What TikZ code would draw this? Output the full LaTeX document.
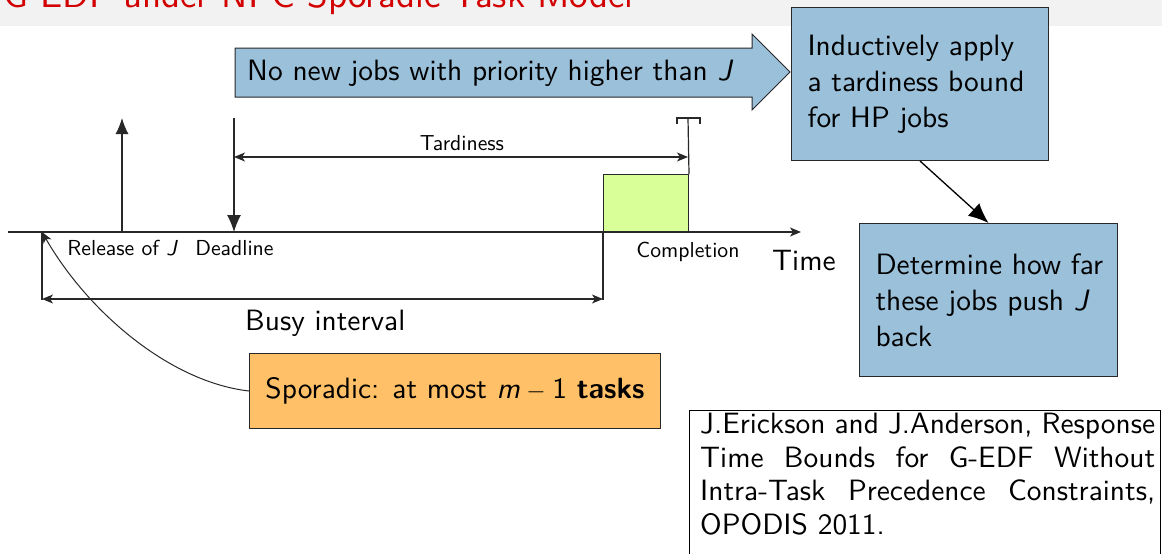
\documentclass[tikz,border=0pt]{standalone}
\usepackage{fontspec}
\setsansfont{lmsans10-regular.otf}[BoldFont=lmsans10-bold.otf, ItalicFont=lmsans10-oblique.otf, BoldItalicFont=lmsans10-boldoblique.otf]
\usetikzlibrary{arrows.meta}
\definecolor{titlered}{RGB}{210,0,0}
\definecolor{barback}{RGB}{242,242,242}
\definecolor{boxblue}{RGB}{154,192,218}
\definecolor{boxorange}{RGB}{255,192,104}
\definecolor{jobgreen}{RGB}{217,255,153}
\definecolor{linecol}{RGB}{40,40,40}
\begin{document}
\begin{tikzpicture}[x=1pt,y=-1pt,
  every node/.style={inner sep=0pt},
  bigfont/.style={font=\sffamily\fontsize{29.4}{36}\selectfont},
  smallfont/.style={font=\sffamily\fontsize{21.7}{25}\selectfont},
  axis/.style={line width=1.2pt, draw=linecol},
  smalltip/.style={-{Stealth[length=11pt,width=9pt,inset=3pt]}},
  smalltips/.style={{Stealth[length=11pt,width=9pt,inset=3pt]}-{Stealth[length=11pt,width=9pt,inset=3pt]}},
  bigtip/.style={-{Latex[length=16pt,width=13pt]}},
  colbox/.style={draw=linecol, line width=1pt},
]
\useasboundingbox (0,0) rectangle (1162,554);

% title bar
\fill[barback] (0,0) rectangle (1162,26);
\node[font=\sffamily\fontsize{37}{40}\selectfont, text=titlered, anchor=base east] (title) at (634,7) {G-EDF under NPC Sporadic Task Model};

% key points on the time axis
\coordinate (tl0) at (8,232);
\coordinate (tl1) at (801,232);
\coordinate (rel) at (122,232);
\coordinate (reltop) at (122,118);
\coordinate (dltop) at (234,118);
\coordinate (dl) at (234,232);
\coordinate (busyL) at (42,232);
\coordinate (busyLlow) at (42,300);
\coordinate (busyR) at (603,232);
\coordinate (busyRlow) at (603,300);
\coordinate (arrL) at (42,299);
\coordinate (arrR) at (603,299);
\coordinate (tardL) at (234,157);
\coordinate (tardR) at (688,157);
\coordinate (comptop) at (688,118);

% executing job
\node[colbox, fill=jobgreen, minimum width=85pt, minimum height=57pt, anchor=south west] (job) at (603,232) {};

% time axis
\draw[axis, smalltip] (tl0) -- (tl1);

% release and deadline
\draw[axis, bigtip] (rel) -- (reltop);
\draw[axis, -{Latex[length=17pt,width=14pt]}] (dltop) -- (dl);

% completion marker
\draw[axis] (job.north east) -- (comptop);
\draw[axis] (677,124) -- (677,118) -- (700,118) -- (700,124);

% tardiness
\draw[axis, smalltips] (tardL) -- (tardR);
\node[smallfont, anchor=base] (tardlab) at (462,150) {Tardiness};

% busy interval
\draw[axis] (busyL) -- (busyLlow);
\draw[axis] (busyR) -- (busyRlow);
\draw[axis, smalltips] (arrL) -- (arrR);
\node[bigfont, anchor=base west] (busylab) at (245,330) {Busy interval};

% axis labels
\node[smallfont, anchor=base] (rellab) at (122,255) {Release of {\itshape J}};
\node[smallfont, anchor=base] (dllab) at (234.5,255) {Deadline};
\node[smallfont, anchor=base] (complab) at (688,257) {Completion};
\node[bigfont, anchor=base west] (timelab) at (772,270) {Time};

% block arrow
\path[colbox, fill=boxblue] (235,48) -- (752,48) -- (752,34) -- (790,72) -- (752,110) -- (752,97) -- (235,97) -- cycle;
\node[bigfont, anchor=base west] (nonew) at (247,80) {No new jobs with priority higher than {\itshape J}};

% blue boxes
\node[colbox, fill=boxblue, bigfont, minimum width=257pt, minimum height=153pt, text width=225pt, align=left, inner xsep=16pt, anchor=north west] (hp) at (791,7) {\mbox{Inductively apply}\\\mbox{a tardiness bound}\\\mbox{for HP jobs}};
\node[colbox, fill=boxblue, bigfont, minimum width=258pt, minimum height=153pt, text width=226pt, align=left, inner xsep=16pt, anchor=north west] (push) at (859,223) {\mbox{Determine how far}\\\mbox{these jobs push {\itshape J}}\\back};
\draw[line width=1.3pt, -{Latex[length=20pt,width=17pt]}] (hp.south) -- (push.north);

% sporadic note
\node[colbox, fill=boxorange, bigfont, minimum width=411pt, minimum height=75pt, anchor=north west] (spor) at (249,353) {Sporadic: at most {\itshape m}\hspace{.22em}$-$\hspace{.22em}1 \textbf{tasks}};
\draw[line width=1pt, draw=linecol, smalltip] (spor.west) .. controls (170,382) and (88,312) .. (busyL);

% reference
\node[draw=black, line width=1.3pt, fill=white, minimum width=471pt, minimum height=170pt, anchor=north west] (refbox) at (689,410) {};
\node[font=\sffamily\fontsize{29.4}{33.5}\selectfont, text width=455pt, align=left, anchor=north west] (reftext) at (700,413) {%
\makebox[455pt]{J.Erickson\hfill and\hfill J.Anderson,\hfill Response}\\
\makebox[455pt]{Time\hfill Bounds\hfill for\hfill G-EDF\hfill Without}\\
\makebox[455pt]{Intra-Task\hfill Precedence\hfill Constraints,}\\
OPODIS 2011.};
\end{tikzpicture}
\end{document}
